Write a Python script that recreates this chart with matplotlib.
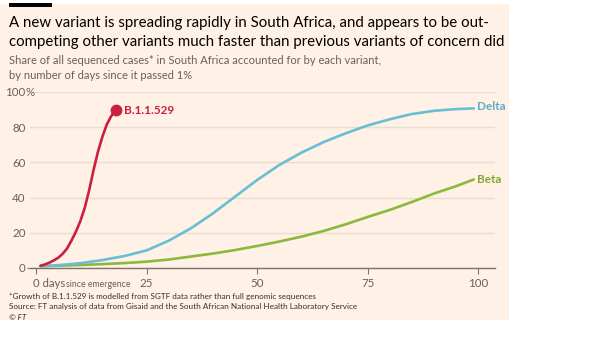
import matplotlib
matplotlib.use("Agg")
import matplotlib.pyplot as plt
from matplotlib.patches import Rectangle

plt.rcParams['font.family'] = ['Lato', 'DejaVu Sans']

# Share of sequenced cases (%) by days since each variant passed 1%
omicron_days = [1, 2, 3, 4, 5, 6, 7, 8, 9, 10, 11, 12, 13, 14, 15, 16, 17, 18]
omicron_share = [1.3, 2.0, 3.0, 4.3, 5.8, 8.0, 11.0, 15.5, 20.5, 26.5, 34.0,
                 44.0, 55.5, 66.0, 74.5, 81.5, 86.3, 89.5]

delta_days = [1, 5, 10, 15, 20, 25, 30, 35, 40, 45, 50, 55, 60, 65, 70, 75,
              80, 85, 90, 95, 99]
delta_share = [1.0, 1.6, 2.7, 4.5, 6.8, 10.0, 15.5, 22.5, 31.0, 40.5, 50.0,
               58.5, 65.5, 71.5, 76.5, 81.0, 84.5, 87.5, 89.3, 90.3, 90.7]

beta_days = [1, 5, 10, 15, 20, 25, 30, 35, 40, 45, 50, 55, 60, 65, 70, 75,
             80, 85, 90, 95, 99]
beta_share = [1.0, 1.3, 1.7, 2.2, 2.8, 3.6, 4.8, 6.5, 8.2, 10.2, 12.5, 15.0,
              17.8, 21.0, 24.8, 29.0, 33.0, 37.5, 42.3, 46.5, 50.3]

y_ticks = [0, 20, 40, 60, 80, 100]
x_ticks = [0, 25, 50, 75, 100]

BG = '#FFF1E5'
INK = '#33302E'
GREY = '#66605C'
GRID = '#E9DCD1'
RED = '#CC1F3F'
BLUE = '#68BFD4'
GREEN = '#8CB83C'
BLUE_TXT = '#5AAFC6'
GREEN_TXT = '#84A932'

W, H = 600, 338
fig = plt.figure(figsize=(W / 100, H / 100), dpi=100, facecolor='white')


def fx(px):
    return px / W


def fy(py):
    return 1 - py / H


# Panel background and the short black rule on top
fig.patches.append(Rectangle((0, fy(320)), fx(509), fy(4) - fy(320),
                             transform=fig.transFigure, facecolor=BG,
                             edgecolor='none', zorder=-10))
fig.patches.append(Rectangle((fx(9), fy(6.5)), fx(43), fy(3) - fy(6.5),
                             transform=fig.transFigure, facecolor='black',
                             edgecolor='none', zorder=-5))

# Headline, subtitle
fig.text(fx(9), fy(27), "A new variant is spreading rapidly in South Africa, and appears to be out-",
         fontsize=10.8, color='black', ha='left', va='baseline')
fig.text(fx(9), fy(46), "competing other variants much faster than previous variants of concern did",
         fontsize=10.8, color='black', ha='left', va='baseline')
fig.text(fx(9), fy(64), "Share of all sequenced cases* in South Africa accounted for by each variant,",
         fontsize=8.0, color=GREY, ha='left', va='baseline')
fig.text(fx(9), fy(79), "by number of days since it passed 1%",
         fontsize=8.0, color=GREY, ha='left', va='baseline')

# Chart area
ax = fig.add_axes([fx(30), fy(268), fx(495) - fx(30), fy(92) - fy(268)])
ax.set_zorder(1)
ax.set_facecolor('none')
ax.set_xlim(-1.36, 103.8)
ax.set_ylim(0, 100)
for s in ['top', 'right', 'left']:
    ax.spines[s].set_visible(False)
ax.spines['bottom'].set_color('#7A736E')
ax.spines['bottom'].set_linewidth(1.0)

ax.set_yticks(y_ticks)
ax.set_yticklabels([str(v) for v in y_ticks])
ax.tick_params(axis='y', length=2.5, width=0.8, color='#7A736E', pad=0.8,
               labelsize=8.3, labelcolor=GREY)
for t in ax.yaxis.get_major_ticks()[1:]:
    t.tick1line.set_visible(False)
ax.annotate('%', (0, 100), xycoords=('axes fraction', 'data'),
            xytext=(-3.4, 0), textcoords='offset points', fontsize=8.3,
            color=GREY, ha='left', va='center')
ax.grid(axis='y', color=GRID, linewidth=1.0)
ax.set_axisbelow(True)

ax.set_xticks(x_ticks)
ax.set_xticklabels([''] + [str(v) for v in x_ticks[1:]])
ax.tick_params(axis='x', length=4, width=0.8, color='#7A736E', pad=3,
               labelsize=8.3, labelcolor=GREY)
fig.text(fx(33), fy(287), "0 days", fontsize=8.2, color=GREY, ha='left', va='baseline')
fig.text(fx(66.5), fy(287), "since emergence", fontsize=6.3, color=GREY, ha='left', va='baseline')

# Variant curves
ax.plot(beta_days, beta_share, color=GREEN, lw=1.9, solid_capstyle='round',
        solid_joinstyle='round', zorder=3)
ax.plot(delta_days, delta_share, color=BLUE, lw=1.9, solid_capstyle='round',
        solid_joinstyle='round', zorder=3)
ax.plot(omicron_days, omicron_share, color=RED, lw=1.9, solid_capstyle='round',
        solid_joinstyle='round', zorder=4)
ax.plot(omicron_days[-1], omicron_share[-1], 'o', color=RED, ms=7.5, zorder=5)

ax.annotate("B.1.1.529", (omicron_days[-1], omicron_share[-1]), xytext=(6, 0),
            textcoords='offset points', fontsize=8.5, fontweight='bold',
            color=RED, ha='left', va='center')
ax.annotate("Delta", (delta_days[-1], delta_share[-1]), xytext=(2, 1),
            textcoords='offset points', fontsize=8.5, fontweight='bold',
            color=BLUE_TXT, ha='left', va='center')
ax.annotate("Beta", (beta_days[-1], beta_share[-1]), xytext=(2, 0),
            textcoords='offset points', fontsize=8.5, fontweight='bold',
            color=GREEN_TXT, ha='left', va='center')

# Footnotes
fig.text(fx(9), fy(299), "*Growth of B.1.1.529 is modelled from SGTF data rather than full genomic sequences",
         fontsize=5.9, color=INK, ha='left', va='baseline')
fig.text(fx(9), fy(309.5), "Source: FT analysis of data from Gisaid and the South African National Health Laboratory Service",
         fontsize=5.9, color=INK, ha='left', va='baseline')
fig.text(fx(9), fy(320), "\u00a9 FT", fontsize=5.9, color=INK, ha='left', va='baseline',
         style='italic')

fig.savefig('out.png', dpi=100, facecolor='white')
